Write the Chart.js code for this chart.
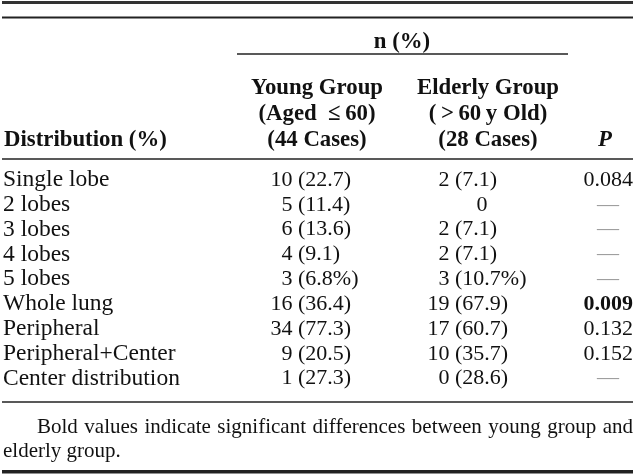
<!DOCTYPE html>
<html>
<head>
<meta charset="utf-8">
<script src="https://cdn.jsdelivr.net/npm/chart.js@4.4.1/dist/chart.umd.min.js"></script>
<style>
  body { margin: 0; background: #fff; }
  #wrap { width: 636px; height: 475px; position: relative; }
</style>
</head>
<body>
<div id="wrap"><canvas id="table"></canvas></div>
<script>
// table content
const rowLabels = ['Single lobe', '2 lobes', '3 lobes', '4 lobes', '5 lobes', 'Whole lung',
    'Peripheral', 'Peripheral+Center', 'Center distribution'];
const youngCounts = [10, 5, 6, 4, 3, 16, 34, 9, 1];
const youngPcts = ['22.7', '11.4', '13.6', '9.1', '6.8%', '36.4', '77.3', '20.5', '27.3'];
const elderlyCounts = [2, 0, 2, 2, 3, 19, 17, 10, 0];
const elderlyPcts = ['7.1', null, '7.1', '7.1', '10.7%', '67.9', '60.7', '35.7', '28.6'];
const pValues = ['0.084', '—', '—', '—', '—', '0.009', '0.132', '0.152', '—'];
const pBold = [false, false, false, false, false, true, false, false, false];

const headTop = 'n (%)';
const headYoung = ['Young Group', '(Aged  \u2264\u200960)', '(44 Cases)'];
const headElderly = ['Elderly Group', '(\u2009>\u200960\u2009y Old)', '(28 Cases)'];
const headFirst = 'Distribution (%)';
const headP = 'P';
const footnote = ['Bold values indicate significant differences between young group and', 'elderly group.'];

const SERIF = '"Liberation Serif", "Times New Roman", serif';
const rows = rowLabels.map((l, i) => i);

// y is in row units (row 0 = first body row)
const Y_MIN = -7.252, Y_MAX = 11.886;

function cellSet(x, texts, opts) {
    return Object.assign({
        data: rows.map(i => ({x: x, y: i})),
        texts: texts,
        pointRadius: 0,
        align: 'left',
        size: 22,
        bold: rows.map(() => false)
    }, opts);
}

const datasets = [
    cellSet(3, rowLabels, {size: 23.5}),
    cellSet(292.5, youngCounts.map(String), {align: 'right'}),
    cellSet(298, youngPcts.map(p => '(' + p + ')'), {}),
    cellSet(449.5, elderlyCounts.map((c, i) => elderlyPcts[i] === null ? '' : String(c)), {align: 'right'}),
    cellSet(455, elderlyPcts.map(p => p === null ? '' : '(' + p + ')'), {}),
    cellSet(482, elderlyCounts.map((c, i) => elderlyPcts[i] === null ? String(c) : ''), {align: 'center'}),
    cellSet(633, pValues.map(p => p === '—' ? '' : p), {align: 'right', bold: pBold}),
    cellSet(608, pValues.map(p => p === '—' ? '—' : ''), {align: 'center', dash: true})
];

const tablePlugin = {
    id: 'tableDraw',
    afterDatasetsDraw(chart) {
        const ctx = chart.ctx;
        const xs = chart.scales.x, ys = chart.scales.y;
        const px = v => xs.getPixelForValue(v);
        const py = v => ys.getPixelForValue(v);

        function rule(y, x0, x1, w, color) {
            ctx.save();
            ctx.strokeStyle = color || '#222';
            ctx.lineWidth = w;
            ctx.beginPath();
            ctx.moveTo(px(x0), py(y));
            ctx.lineTo(px(x1), py(y));
            ctx.stroke();
            ctx.restore();
        }
        // bold header text, slightly condensed like the print
        function headText(str, x, y, align, font) {
            const sx = 0.95;
            ctx.save();
            ctx.fillStyle = '#111';
            ctx.font = font;
            ctx.textAlign = align;
            ctx.textBaseline = 'middle';
            ctx.scale(sx, 1);
            ctx.fillText(str, px(x) / sx, py(y));
            ctx.restore();
        }

        // horizontal rules
        rule(-7.15, 2, 633, 3, '#333');
        rule(-6.55, 2, 633, 2, '#222');
        rule(-5.08, 237, 568, 1.5);
        rule(-0.85, 2, 633, 1.5);
        rule(8.94, 2, 633, 1.5);
        rule(11.76, 2, 633, 3.5, '#222');

        // header
        const hb = 'bold 24px ' + SERIF;
        headText(headTop, 402, -5.56, 'center', hb);
        headYoung.forEach((t, k) => headText(t, 317, -3.71 + k * 1.05, 'center', hb));
        headElderly.forEach((t, k) => headText(t, 488, -3.71 + k * 1.05, 'center', hb));
        headText(headFirst, 4, -1.61, 'left', hb);
        headText(headP, 605, -1.61, 'center', 'italic bold 24px ' + SERIF);

        // body cells
        chart.data.datasets.forEach((ds, di) => {
            const meta = chart.getDatasetMeta(di);
            meta.data.forEach((pt, j) => {
                const s = ds.texts[j];
                if (!s) return;
                ctx.save();
                ctx.font = (ds.bold[j] ? 'bold ' : '') + ds.size + 'px ' + SERIF;
                ctx.fillStyle = ds.dash ? '#9a9a9a' : '#111';
                ctx.textAlign = ds.align;
                ctx.textBaseline = 'middle';
                ctx.fillText(s, pt.x, pt.y);
                ctx.restore();
            });
        });

        // footnote, first line justified
        ctx.save();
        ctx.font = '21px ' + SERIF;
        ctx.fillStyle = '#111';
        ctx.textBaseline = 'middle';
        const words = footnote[0].split(' ');
        const wsum = words.reduce((a, w) => a + ctx.measureText(w).width, 0);
        const x0 = px(37), x1 = px(633);
        const gap = (x1 - x0 - wsum) / (words.length - 1);
        let cx = x0;
        words.forEach(w => {
            ctx.fillText(w, cx, py(9.97));
            cx += ctx.measureText(w).width + gap;
        });
        ctx.fillText(footnote[1], px(3), py(10.94));
        ctx.restore();
    }
};

new Chart(document.getElementById('table'), {
    type: 'scatter',
    data: {datasets: datasets},
    options: {
        responsive: true,
        maintainAspectRatio: false,
        animation: false,
        layout: {padding: 0},
        plugins: {legend: {display: false}, tooltip: {enabled: false}},
        scales: {
            x: {type: 'linear', min: 0, max: 636, display: false},
            y: {type: 'linear', min: Y_MIN, max: Y_MAX, reverse: true, display: false}
        }
    },
    plugins: [tablePlugin]
});
</script>
</body>
</html>
